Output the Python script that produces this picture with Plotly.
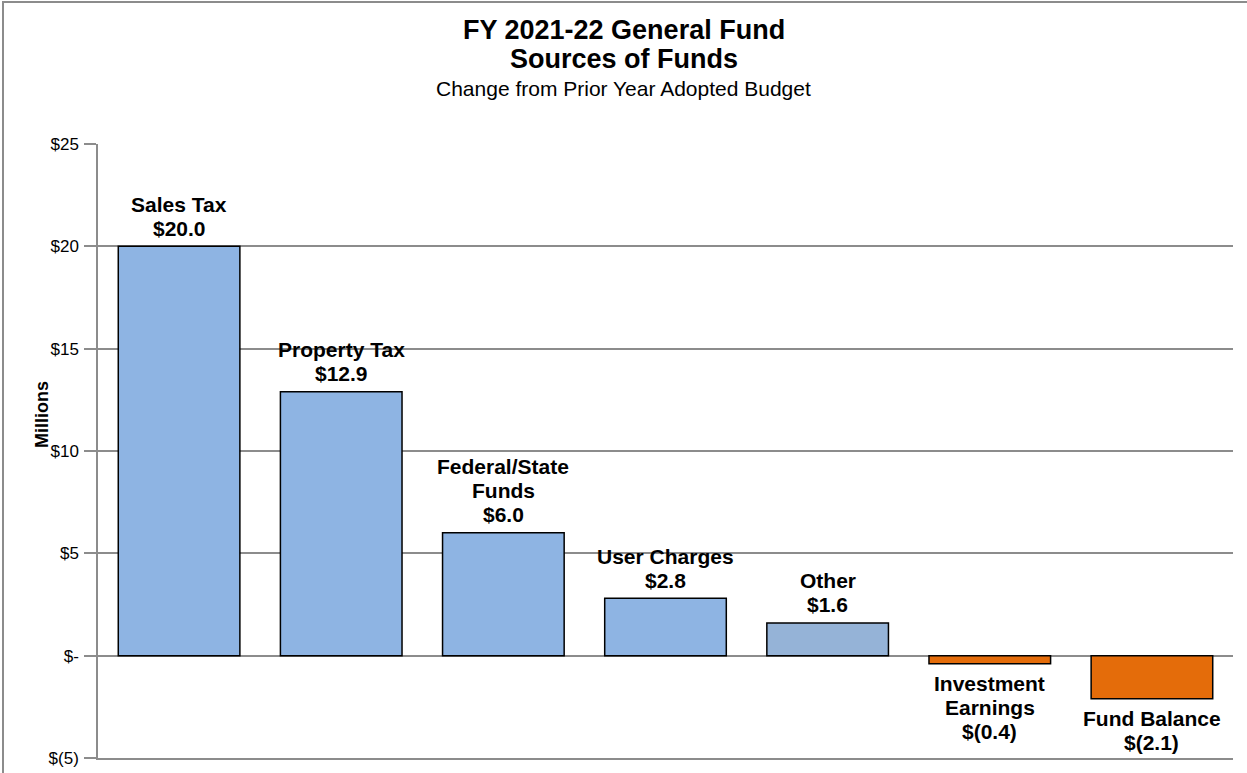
import plotly.graph_objects as go

# Change in General Fund sources, FY 2021-22 vs prior year adopted budget ($ millions)
categories = ["Sales Tax", "Property Tax", "Federal/State Funds", "User Charges",
              "Other", "Investment Earnings", "Fund Balance"]
values = [20.0, 12.9, 6.0, 2.8, 1.6, -0.4, -2.1]
label_names = [["Sales Tax"], ["Property Tax"], ["Federal/State", "Funds"], ["User Charges"],
               ["Other"], ["Investment", "Earnings"], ["Fund Balance"]]
bar_colors = ["#8EB4E3", "#8EB4E3", "#8EB4E3", "#8EB4E3", "#95B3D7", "#E46C0A", "#E46C0A"]

tick_values = [-5, 0, 5, 10, 15, 20, 25]
tick_labels = ["$(5)", "$-", "$5", "$10", "$15", "$20", "$25"]

FONT = "Arial, Liberation Sans, sans-serif"
GRID = "#8C8C8C"

W, H = 1247, 773
ML, MR, MT, MB = 98, 14, 144, 15
plot_w = W - ML - MR
plot_h = H - MT - MB

LINE_STEP = 24      # spacing between label lines, px
LABEL_GAP = 18      # distance from bar end to nearest label line centre, px


def money(v):
    return f"${v:.1f}" if v >= 0 else f"$({abs(v):.1f})"


def px_to_paper_y(py):
    return (H - MB - py) / plot_h


def px_to_paper_x(px):
    return (px - ML) / plot_w


fig = go.Figure(go.Bar(
    x=categories,
    y=values,
    marker=dict(color=bar_colors, line=dict(color="#000000", width=1.5)),
    hoverinfo="skip",
))

annotations = []
for cat, v, name_lines in zip(categories, values, label_names):
    lines = name_lines + [money(v)]
    n = len(lines)
    for i, line in enumerate(lines):
        if v >= 0:
            shift = LABEL_GAP + (n - 1 - i) * LINE_STEP
        else:
            shift = -(LABEL_GAP + 2 + i * LINE_STEP)
        annotations.append(dict(
            x=cat, y=v, xref="x", yref="y",
            text=f"<b>{line}</b>",
            showarrow=False, xanchor="center", yanchor="middle",
            yshift=shift,
            font=dict(family=FONT, size=21, color="#000000"),
        ))

center_x = px_to_paper_x(W / 2)
for text, py, size in [("<b>FY 2021-22 General Fund</b>", 30, 27),
                       ("<b>Sources of Funds</b>", 59, 27),
                       ("Change from Prior Year Adopted Budget", 89, 21)]:
    annotations.append(dict(
        x=center_x, y=px_to_paper_y(py), xref="paper", yref="paper",
        text=text, showarrow=False, xanchor="center", yanchor="middle",
        font=dict(family=FONT, size=size, color="#000000"),
    ))

annotations.append(dict(
    x=px_to_paper_x(42), y=px_to_paper_y(415), xref="paper", yref="paper",
    text="<b>Millions</b>", textangle=-90, showarrow=False,
    xanchor="center", yanchor="middle",
    font=dict(family=FONT, size=18, color="#000000"),
))

fig.update_layout(
    width=W, height=H,
    margin=dict(l=ML, r=MR, t=MT, b=MB, pad=0, autoexpand=False),
    paper_bgcolor="#FFFFFF",
    plot_bgcolor="#FFFFFF",
    bargap=0.25,
    showlegend=False,
    annotations=annotations,
    shapes=[dict(
        type="rect", xref="paper", yref="paper",
        x0=px_to_paper_x(3), x1=px_to_paper_x(W + 20),
        y0=px_to_paper_y(H + 20), y1=px_to_paper_y(2),
        line=dict(color="#8C8C8C", width=2), fillcolor="rgba(0,0,0,0)",
        layer="below",
    )],
)

fig.update_xaxes(
    showticklabels=False, showgrid=False, zeroline=False,
    showline=True, linecolor=GRID, linewidth=1.5, ticks="",
    automargin=False,
)
fig.update_yaxes(
    range=[-5, 25],
    tickmode="array", tickvals=tick_values, ticktext=tick_labels,
    tickfont=dict(family=FONT, size=17, color="#000000"),
    showgrid=True, gridcolor=GRID, gridwidth=1.5,
    zeroline=False,
    showline=True, linecolor=GRID, linewidth=1.5,
    ticks="outside", ticklen=12, tickcolor=GRID, tickwidth=1.5,
    ticklabelstandoff=2,
    automargin=False,
)

fig.write_html("out.html")
